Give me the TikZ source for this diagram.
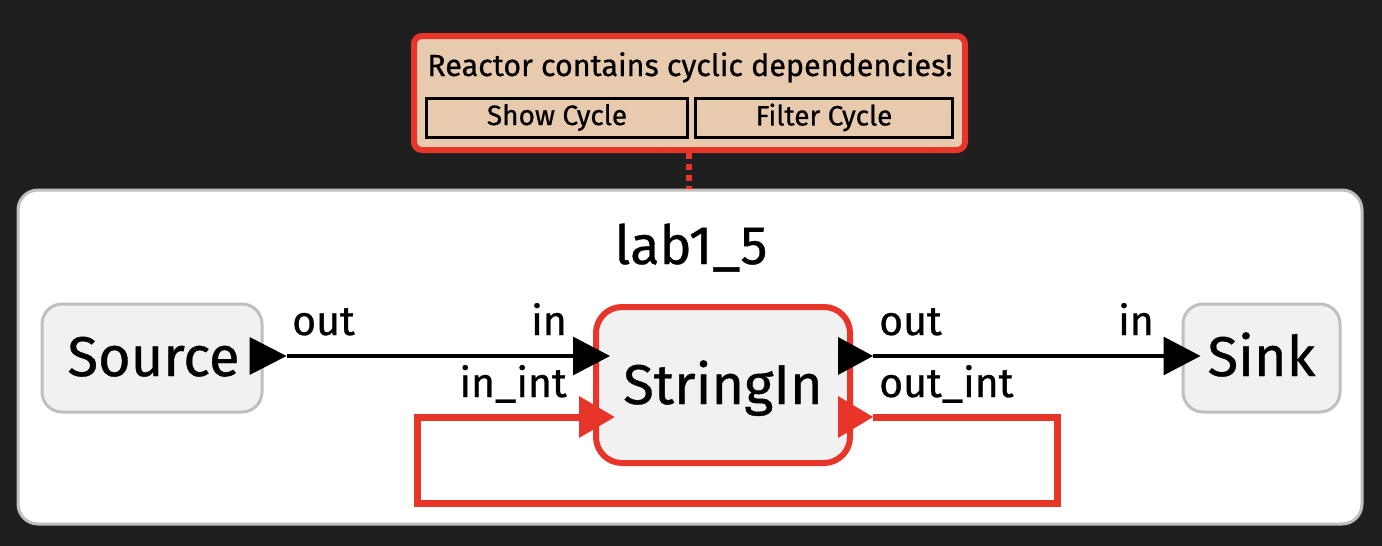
\documentclass[tikz,border=0pt]{standalone}
\usepackage{fontspec}
\setmainfont{Fira Sans}[FakeBold=0.7]
\usetikzlibrary{arrows.meta}
\definecolor{bg}{HTML}{1F1F1F}
\definecolor{cyc}{HTML}{E8352A}
\definecolor{peach}{HTML}{E8CBAF}
\definecolor{nodefill}{HTML}{F1F1F1}
\definecolor{nodeborder}{HTML}{BFBFBF}
\newcommand{\fsz}[1]{\fontsize{#1}{#1}\selectfont}
\tikzset{
  reactor/.style={draw=nodeborder, fill=nodefill, line width=3pt, rounded corners=20pt, inner sep=0pt},
  cycreactor/.style={reactor, draw=cyc, line width=6pt, rounded corners=26pt},
  rtxt/.style={font=\fsz{56}, inner sep=0pt, anchor=base},
  portlbl/.style={font=\fsz{41}, inner sep=0pt},
  conn/.style={line width=3.2pt, -{Triangle[length=37pt,width=38pt]}},
  cycconn/.style={cyc, line width=7pt, -{Triangle[length=36pt,width=40pt]}},
  btn/.style={draw=black, line width=3pt, fill=peach, inner sep=0pt, minimum height=39pt, font=\fsz{28}},
}
\begin{document}
\begin{tikzpicture}[x=1pt,y=-1pt]
\fill[bg] (0,0) rectangle (1382,546);
\useasboundingbox (0,0) rectangle (1382,546);

% warning box
\node[draw=cyc, fill=peach, line width=6pt, rounded corners=8pt, minimum width=551pt, minimum height=114pt, inner sep=0pt] (warn) at (689.5,93) {};
\node[font=\fsz{30.5}, inner sep=0pt, anchor=base] (warntxt) at (690,76) {Reactor contains cyclic dependencies!};
\node[btn, minimum width=261pt] (show) at (557,117.5) {Show Cycle};
\node[btn, minimum width=257pt] (filter) at (824,117.5) {Filter Cycle};

% container
\node[draw=nodeborder, fill=white, line width=3pt, rounded corners=20pt, minimum width=1344pt, minimum height=334pt, inner sep=0pt] (lab) at (690,357) {};
\draw[cyc, line width=6pt, dash pattern=on 6pt off 5pt] (warn.south -| show.east) -- (lab.north -| show.east);
\node[font=\fsz{54}, inner sep=0pt, anchor=base] (title) at (691,264) {lab1\_5};

% reactors
\node[reactor, minimum width=220pt, minimum height=108pt] (src) at (152,358) {};
\node[rtxt] (srctxt) at ([xshift=1.5pt]src.center |- 0,376) {Source};
\node[reactor, minimum width=157pt, minimum height=108pt] (sink) at (1261.5,358) {};
\node[rtxt] (sinktxt) at (sink.center |- 0,376) {Sink};
\node[cycreactor, minimum width=254pt, minimum height=156pt] (str) at (723,385) {};
\node[rtxt] (strtxt) at (723,404) {StringIn};

% port coordinates
\coordinate (srcout) at ([xshift=23pt]src.east |- 0,356);
\coordinate (strin) at ([xshift=17pt]str.west |- 0,356);
\coordinate (strinint) at ([xshift=22pt]str.west |- 0,417);
\coordinate (strout) at ([xshift=20pt]str.east |- 0,356);
\coordinate (stroutint) at ([xshift=20pt]str.east |- 0,417);
\coordinate (sinkin) at ([xshift=19pt]sink.west |- 0,356);

% output port triangles
\fill ([xshift=-37pt,yshift=-19pt]srcout) -- (srcout) -- ([xshift=-37pt,yshift=19pt]srcout) -- cycle;
\fill ([xshift=-35pt,yshift=-19pt]strout) -- (strout) -- ([xshift=-35pt,yshift=19pt]strout) -- cycle;
\fill[cyc] ([xshift=-35pt,yshift=-21pt]stroutint) -- (stroutint) -- ([xshift=-35pt,yshift=21pt]stroutint) -- cycle;

% connections
\draw[conn] (srcout) -- (strin);
\draw[conn] (strout) -- (sinkin);
\coordinate (loopr) at (1057,417);
\coordinate (loopl) at (417,503);
\draw[cycconn] (stroutint) -- (loopr) -- (loopr |- loopl) -- (loopl) -- (loopl |- strinint) -- (strinint);

% port labels
\node[portlbl, anchor=base west] (l1) at (292,335) {out};
\node[portlbl, anchor=base east] (l2) at (567,335) {in};
\node[portlbl, anchor=base east] (l3) at (567,397) {in\_int};
\node[portlbl, anchor=base west] (l4) at (879,335) {out};
\node[portlbl, anchor=base west] (l5) at (879,397) {out\_int};
\node[portlbl, anchor=base east] (l6) at (1154,335) {in};
\end{tikzpicture}
\end{document}
